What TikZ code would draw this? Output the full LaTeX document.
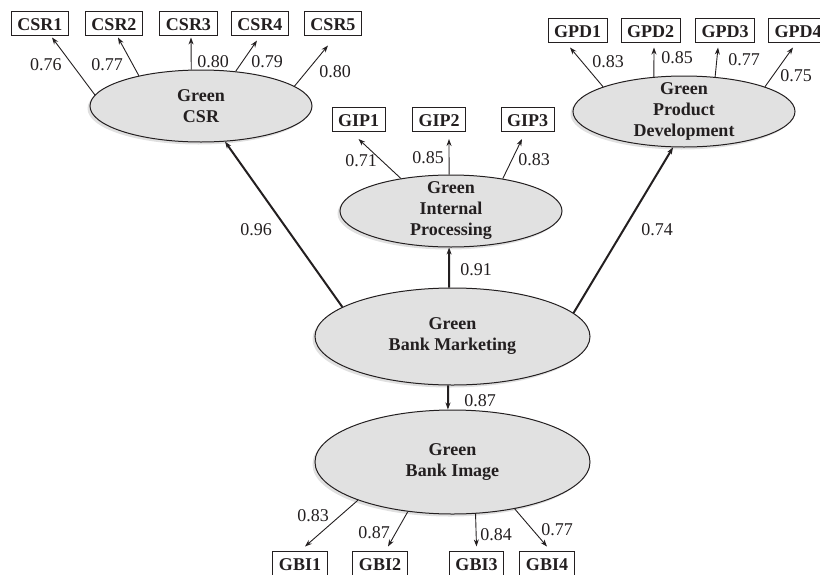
\documentclass[tikz,border=0pt]{standalone}
\usepackage{fontspec}
\setmainfont{Liberation Serif}
\usetikzlibrary{shapes,positioning,arrows.meta,calc,shadows}
\definecolor{ink}{HTML}{231F20}
\definecolor{latfill}{HTML}{E1E1E1}
\tikzset{lat/.style={ellipse,draw=ink,line width=1pt,fill=latfill,text=ink,inner sep=0pt,align=center,
    font=\fontsize{18}{21}\selectfont\bfseries,
    drop shadow={shadow xshift=-2.5pt,shadow yshift=-2.5pt,fill=black!12,opacity=1}}}
\tikzset{ind/.style={rectangle,draw=ink,line width=1pt,fill=white,text=ink,font=\fontsize{18}{21}\selectfont\bfseries,
    text height=13pt,text depth=0pt,inner xsep=6pt,inner ysep=5.5pt}}
\tikzset{wt/.style={text=ink,font=\fontsize{18}{21}\selectfont,inner sep=0pt}}
\tikzset{ld/.style={->,draw=ink,line width=0.9pt},st/.style={->,draw=ink,line width=2pt}}

\begin{document}
\begin{tikzpicture}[>={Stealth[length=7pt,width=5pt]},x=1pt,y=-1pt]
    \useasboundingbox (0,0) rectangle (820,574);

    % latent variables
    \node[lat,minimum width=222pt,minimum height=72pt] (csr)at (201,106) {Green\\CSR};
    \node[lat,minimum width=222pt,minimum height=72pt,inner ysep=-4pt] (gip)at (451,211) {Green\\Internal\\Processing};
    \node[lat,minimum width=222pt,minimum height=71pt,inner ysep=-4pt] (gpd)at (684,111.5) {Green\\Product\\Development};
    \node[lat,minimum width=275pt,minimum height=97pt] (gbm)at (452.5,336.5) {Green\\Bank Marketing};
    \node[lat,minimum width=275pt,minimum height=104pt] (gbi)at (452.5,462) {Green\\Bank Image};

    % indicators
    \node[ind] (csr1)at (40,23.5) {CSR1};
    \node[ind] (csr2)at (114,23.5) {CSR2};
    \node[ind] (csr3)at (188.5,23.5) {CSR3};
    \node[ind] (csr4)at (260,23.5) {CSR4};
    \node[ind] (csr5)at (333,23.5) {CSR5};
    \node[ind] (gip1)at (358.5,119.5) {GIP1};
    \node[ind] (gip2)at (439,119.5) {GIP2};
    \node[ind] (gip3)at (527.5,119.5) {GIP3};
    \node[ind] (gpd1)at (577.5,30.5) {GPD1};
    \node[ind] (gpd2)at (650.5,30.5) {GPD2};
    \node[ind] (gpd3)at (725,30.5) {GPD3};
    \node[ind] (gpd4)at (798,30.5) {GPD4};
    \node[ind] (gbi1)at (300,563.5) {GBI1};
    \node[ind] (gbi2)at (380,563.5) {GBI2};
    \node[ind] (gbi3)at (476.5,563.5) {GBI3};
    \node[ind] (gbi4)at (547,563.5) {GBI4};

    % structural paths
    \draw [st] (gbm.165.6) to [] (csr.304);
    \draw [st] (gbm.94) to [] (gip.267);
    \draw [st] (gbm.11.5) to [] (gpd.253);
    \draw [st] (gbm.265) to [] (gbi.95);

    % loadings
    \draw [ld] (csr.174) to [] ($(csr1.south)+(12,1.5)$);
    \draw [ld] (csr.154) to [] ($(csr2.south)+(4,1.5)$);
    \draw [ld] (csr.105.5) to [] ($(csr3.south)+(2.5,1.5)$);
    \draw [ld] (csr.45) to [] ($(csr4.south)+(-3,4.5)$);
    \draw [ld] (csr.12) to [] ($(csr5.south)+(-5,9.5)$);
    \draw [ld] (gip.147) to [] ($(gip1.south)+(0,7)$);
    \draw [ld] (gip.93) to [] ($(gip2.south)+(10,7)$);
    \draw [ld] (gip.32) to [] ($(gip3.south)+(-5.5,7)$);
    \draw [ld] (gpd.163) to [] ($(gpd1.south)+(-7.5,4.5)$);
    \draw [ld] (gpd.131) to [] ($(gpd2.south)+(3.5,4.5)$);
    \draw [ld] (gpd.48) to [] ($(gpd3.south)+(-7,4.5)$);
    \draw [ld] (gpd.17) to [] ($(gpd4.south)+(-5,4.5)$);
    \draw [ld] (gbi.202) to [] ($(gbi1.north)+(5,-4.5)$);
    \draw [ld] (gbi.228.3) to [] ($(gbi2.north)+(8,-4.5)$);
    \draw [ld] (gbi.294.7) to [] ($(gbi3.north)+(0,-4.5)$);
    \draw [ld] (gbi.323.3) to [] ($(gbi4.north)+(0,-4.5)$);

    % weights
    \node[wt] (w1)at (46,65) {0.76};
    \node[wt] (w2)at (107,65) {0.77};
    \node[wt] (w3)at (213,62) {0.80};
    \node[wt] (w4)at (267,62) {0.79};
    \node[wt] (w5)at (335,72) {0.80};
    \node[wt] (w6)at (361,161) {0.71};
    \node[wt] (w7)at (428,158) {0.85};
    \node[wt] (w8)at (534,160) {0.83};
    \node[wt] (w9)at (608,62) {0.83};
    \node[wt] (w10)at (677,58) {0.85};
    \node[wt] (w11)at (744,60) {0.77};
    \node[wt] (w12)at (796,76) {0.75};
    \node[wt] (w13)at (256,230) {0.96};
    \node[wt] (w14)at (476,270) {0.91};
    \node[wt] (w15)at (657,230) {0.74};
    \node[wt] (w16)at (480,401) {0.87};
    \node[wt] (w17)at (313,516) {0.83};
    \node[wt] (w18)at (374,533) {0.87};
    \node[wt] (w19)at (496,535) {0.84};
    \node[wt] (w20)at (557,530) {0.77};
\end{tikzpicture}
\end{document}
